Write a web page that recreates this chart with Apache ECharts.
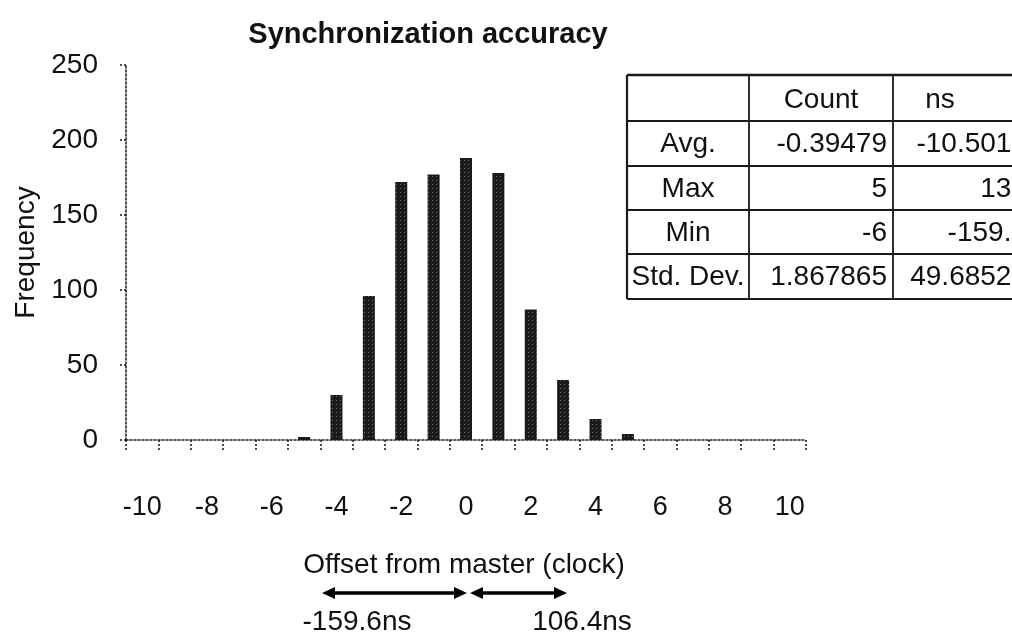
<!DOCTYPE html>
<html>
<head>
<meta charset="utf-8">
<script src="https://cdn.jsdelivr.net/npm/echarts@6/dist/echarts.min.js"></script>
<style>
html,body{margin:0;padding:0;background:#fff;}
#chart{width:1012px;height:637px;}
</style>
</head>
<body>
<div id="chart"></div>
<script>
// ---- data ----
var categories = ['-10','-9','-8','-7','-6','-5','-4','-3','-2','-1','0','1','2','3','4','5','6','7','8','9','10'];
var frequency  = [0, 0, 0, 0, 0, 2, 30, 96, 172, 177, 188, 178, 87, 40, 14, 4, 0, 0, 0, 0, 0];
var yTicks = [0, 50, 100, 150, 200, 250];
var tableHeader = ['', 'Count', 'ns'];
var tableRowLabels = ['Avg.', 'Max', 'Min', 'Std. Dev.'];
var tableCount = ['-0.39479', '5', '-6', '1.867865'];
var tableNs = ['-10.5014', '133', '-159.6', '49.68521'];
var titleText = 'Synchronization accuracy';
var xName = 'Offset from master (clock)';
var rangeLeftLabel = '-159.6ns';
var rangeRightLabel = '106.4ns';

var FONT = '"Liberation Sans", Arial, sans-serif';
var INK = '#111';

// ---- table graphic ----
var colX = [627, 749, 893, 1060];
var rowY = [75, 121, 166, 210, 254, 299];
var g = [];
function hline(y, x1, x2, w){ g.push({type:'line', shape:{x1:x1,y1:y,x2:x2,y2:y}, style:{stroke:'#1a1a1a', lineWidth:w||1.8}}); }
function vline(x, y1, y2, w){ g.push({type:'line', shape:{x1:x,y1:y1,x2:x,y2:y2}, style:{stroke:'#1a1a1a', lineWidth:w||1.8}}); }
function txt(t, x, y, align){ g.push({type:'text', x:x, y:y, style:{text:t, fill:INK, font:'28px ' + FONT, textAlign:align, textVerticalAlign:'middle'}}); }
rowY.forEach(function(y, i){ hline(y, colX[0], 1012, i === 0 ? 2.4 : 1.8); });
vline(colX[0], rowY[0], rowY[rowY.length-1], 2.2);
vline(colX[1], rowY[0], rowY[rowY.length-1]);
vline(colX[2], rowY[0], rowY[rowY.length-1]);
txt(tableHeader[1], 821, (rowY[0]+rowY[1])/2 + 2, 'center');
txt(tableHeader[2], 940, (rowY[0]+rowY[1])/2 + 2, 'center');
tableRowLabels.forEach(function(lbl, i){
  var cy = (rowY[i+1] + rowY[i+2]) / 2 + 1;
  txt(lbl, 688, cy, 'center');
  txt(tableCount[i], 887, cy, 'right');
  txt(tableNs[i], 1027, cy, 'right');
});

// ---- bottom annotation ----
g.push({type:'text', x:464, y:565, style:{text:xName, fill:INK, font:'28px ' + FONT, textAlign:'center', textVerticalAlign:'middle'}});
function arrow(x1, x2, y){
  g.push({type:'line', shape:{x1:x1+6,y1:y,x2:x2-6,y2:y}, style:{stroke:'#000', lineWidth:3.5}});
  g.push({type:'polygon', shape:{points:[[x1,y],[x1+13,y-6],[x1+13,y+6]]}, style:{fill:'#000'}});
  g.push({type:'polygon', shape:{points:[[x2,y],[x2-13,y-6],[x2-13,y+6]]}, style:{fill:'#000'}});
}
arrow(322, 467, 593);
arrow(470, 567, 593);
g.push({type:'text', x:357, y:622, style:{text:rangeLeftLabel, fill:INK, font:'28px ' + FONT, textAlign:'center', textVerticalAlign:'middle'}});
g.push({type:'text', x:582, y:622, style:{text:rangeRightLabel, fill:INK, font:'28px ' + FONT, textAlign:'center', textVerticalAlign:'middle'}});

var chart = echarts.init(document.getElementById('chart'), null, {renderer:'canvas'});
chart.setOption({
  animation: false,
  backgroundColor: '#fff',
  title: {
    text: titleText, left: 423, top: 15, textAlign: 'center',
    textStyle: {fontFamily: FONT, fontWeight: 'bold', fontSize: 29, color: INK}
  },
  grid: {left: 126, right: 206, top: 65, bottom: 197, containLabel: false},
  xAxis: {
    type: 'category',
    data: categories,
    boundaryGap: true,
    axisLine: {show: true, lineStyle: {color: '#222', type: [2, 2], width: 1.6}},
    axisTick: {show: true, interval: 0, length: 12, inside: false, lineStyle: {color: '#222', type: [2, 2], width: 1.6}},
    axisLabel: {interval: 1, margin: 54, fontSize: 27, fontFamily: FONT, color: INK},
    splitLine: {show: false}
  },
  yAxis: {
    type: 'value',
    min: yTicks[0], max: yTicks[yTicks.length-1], interval: yTicks[1] - yTicks[0],
    name: 'Frequency', nameLocation: 'middle', nameGap: 84,
    nameTextStyle: {fontFamily: FONT, fontSize: 28, color: INK},
    axisLine: {show: true, lineStyle: {color: '#222', type: [2, 2], width: 1.6}},
    axisTick: {show: true, length: 8, lineStyle: {color: '#222', type: [2, 2], width: 1.6}},
    axisLabel: {margin: 28, fontSize: 28, fontFamily: FONT, color: INK},
    splitLine: {show: false}
  },
  series: [{
    type: 'bar',
    data: frequency,
    barWidth: 12,
    itemStyle: {
      color: '#1b1b1b',
      decal: {symbol: 'rect', symbolSize: 1, color: 'rgba(255,255,255,0.35)', dashArrayX: [1, 3], dashArrayY: [1, 3], rotation: 0}
    }
  }],
  graphic: g
});
</script>
</body>
</html>
